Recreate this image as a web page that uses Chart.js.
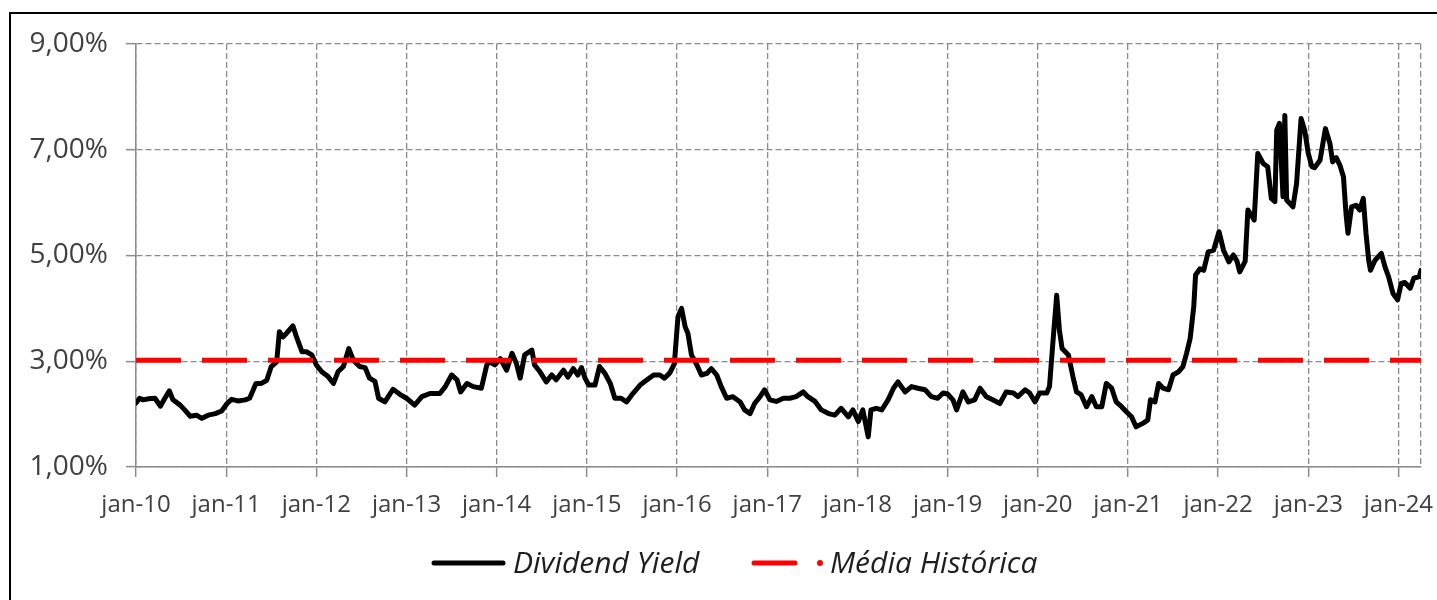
<!DOCTYPE html>
<html>
<head>
<meta charset="utf-8">
<script src="https://cdn.jsdelivr.net/npm/chart.js@4.4.1/dist/chart.umd.min.js"></script>
<style>
  html, body { margin: 0; padding: 0; background: #fff; overflow: hidden; }
  #frame { position: absolute; left: 9px; top: 12px; width: 1440px; height: 700px;
           border-left: 2px solid #000; border-top: 2px solid #000; }
  #c { position: absolute; left: 0; top: 0; }
</style>
</head>
<body>
<div id="frame"></div>
<canvas id="c" width="1437" height="600"></canvas>
<script>
// Dividend yield history (weekly-ish readings, decimal year) vs. historical mean.

var X_MIN = 2010;
var X_MAX = 2024.25;
var X_TICKS = [2010, 2011, 2012, 2013, 2014, 2015, 2016, 2017, 2018, 2019, 2020, 2021, 2022, 2023, 2024];
var Y_TICKS = [1, 3, 5, 7, 9];
var LABELS = ["Dividend Yield", "Média Histórica"];
var MEAN_VALUE = 3.02;

var DY_DATES = [
  2010.00, 2010.04, 2010.08, 2010.14, 2010.21, 2010.27, 2010.32, 2010.37, 2010.41, 2010.49,
  2010.54, 2010.60, 2010.67, 2010.73, 2010.80, 2010.88, 2010.95, 2011.01, 2011.06, 2011.13,
  2011.21, 2011.26, 2011.33, 2011.39, 2011.45, 2011.50, 2011.56, 2011.59, 2011.63, 2011.67,
  2011.74, 2011.78, 2011.84, 2011.89, 2011.95, 2012.00, 2012.06, 2012.13, 2012.19, 2012.24,
  2012.30, 2012.36, 2012.41, 2012.48, 2012.54, 2012.59, 2012.65, 2012.69, 2012.76, 2012.85,
  2012.93, 2013.00, 2013.09, 2013.17, 2013.26, 2013.37, 2013.43, 2013.50, 2013.56, 2013.60,
  2013.67, 2013.74, 2013.83, 2013.89, 2013.92, 2013.98, 2014.04, 2014.11, 2014.17, 2014.22,
  2014.26, 2014.31, 2014.39, 2014.42, 2014.48, 2014.55, 2014.61, 2014.66, 2014.74, 2014.79,
  2014.85, 2014.90, 2014.94, 2014.98, 2015.02, 2015.09, 2015.14, 2015.20, 2015.26, 2015.31,
  2015.38, 2015.44, 2015.51, 2015.59, 2015.66, 2015.74, 2015.81, 2015.86, 2015.92, 2015.97,
  2016.01, 2016.05, 2016.09, 2016.12, 2016.16, 2016.22, 2016.27, 2016.33, 2016.38, 2016.44,
  2016.49, 2016.55, 2016.62, 2016.70, 2016.75, 2016.81, 2016.86, 2016.92, 2016.97, 2017.03,
  2017.10, 2017.18, 2017.25, 2017.32, 2017.40, 2017.45, 2017.53, 2017.60, 2017.68, 2017.75,
  2017.82, 2017.90, 2017.95, 2018.01, 2018.06, 2018.12, 2018.15, 2018.21, 2018.27, 2018.34,
  2018.40, 2018.45, 2018.53, 2018.60, 2018.67, 2018.75, 2018.82, 2018.89, 2018.95, 2019.00,
  2019.06, 2019.10, 2019.17, 2019.23, 2019.30, 2019.36, 2019.43, 2019.50, 2019.58, 2019.65,
  2019.73, 2019.78, 2019.86, 2019.91, 2019.97, 2020.02, 2020.10, 2020.13, 2020.17, 2020.21,
  2020.24, 2020.27, 2020.34, 2020.39, 2020.43, 2020.48, 2020.54, 2020.60, 2020.65, 2020.71,
  2020.76, 2020.82, 2020.87, 2020.93, 2020.98, 2021.04, 2021.09, 2021.17, 2021.22, 2021.25,
  2021.30, 2021.34, 2021.39, 2021.45, 2021.50, 2021.56, 2021.61, 2021.65, 2021.69, 2021.73,
  2021.75, 2021.80, 2021.84, 2021.89, 2021.95, 2022.01, 2022.06, 2022.12, 2022.17, 2022.21,
  2022.24, 2022.30, 2022.33, 2022.37, 2022.40, 2022.44, 2022.50, 2022.55, 2022.59, 2022.63,
  2022.65, 2022.68, 2022.72, 2022.74, 2022.76, 2022.83, 2022.87, 2022.92, 2022.96, 2023.00,
  2023.04, 2023.07, 2023.13, 2023.19, 2023.24, 2023.27, 2023.31, 2023.35, 2023.39, 2023.42,
  2023.44, 2023.48, 2023.53, 2023.57, 2023.61, 2023.64, 2023.67, 2023.69, 2023.74, 2023.81,
  2023.85, 2023.89, 2023.94, 2023.99, 2024.03, 2024.07, 2024.13, 2024.17, 2024.23, 2024.25
];

var DY_VALUES = [
  2.21, 2.30, 2.27, 2.29, 2.30, 2.15, 2.30, 2.44, 2.27, 2.17,
  2.08, 1.96, 1.98, 1.92, 1.98, 2.01, 2.06, 2.20, 2.28, 2.25,
  2.27, 2.30, 2.58, 2.58, 2.64, 2.90, 2.99, 3.56, 3.46, 3.53,
  3.67, 3.46, 3.18, 3.18, 3.12, 2.93, 2.80, 2.71, 2.58, 2.80,
  2.90, 3.24, 3.02, 2.90, 2.88, 2.68, 2.62, 2.30, 2.23, 2.47,
  2.37, 2.30, 2.17, 2.33, 2.39, 2.39, 2.52, 2.74, 2.65, 2.42,
  2.58, 2.52, 2.49, 2.93, 2.99, 2.93, 3.05, 2.83, 3.15, 2.95,
  2.68, 3.12, 3.21, 2.93, 2.80, 2.61, 2.74, 2.65, 2.83, 2.70,
  2.86, 2.74, 2.88, 2.68, 2.55, 2.55, 2.90, 2.77, 2.58, 2.30,
  2.30, 2.23, 2.39, 2.55, 2.64, 2.74, 2.74, 2.68, 2.78, 2.95,
  3.84, 4.00, 3.65, 3.53, 3.12, 2.93, 2.74, 2.77, 2.86, 2.74,
  2.52, 2.30, 2.33, 2.23, 2.08, 2.01, 2.20, 2.33, 2.46, 2.27,
  2.24, 2.30, 2.30, 2.33, 2.42, 2.33, 2.24, 2.08, 2.01, 1.98,
  2.11, 1.95, 2.08, 1.86, 2.08, 1.57, 2.08, 2.11, 2.08, 2.27,
  2.49, 2.61, 2.42, 2.52, 2.49, 2.46, 2.33, 2.30, 2.40, 2.38,
  2.27, 2.08, 2.42, 2.23, 2.27, 2.49, 2.33, 2.27, 2.20, 2.42,
  2.40, 2.33, 2.46, 2.40, 2.23, 2.40, 2.40, 2.52, 3.40, 4.25,
  3.59, 3.24, 3.12, 2.71, 2.42, 2.37, 2.14, 2.33, 2.14, 2.14,
  2.58, 2.49, 2.23, 2.14, 2.05, 1.95, 1.76, 1.83, 1.89, 2.27,
  2.23, 2.58, 2.49, 2.46, 2.74, 2.80, 2.90, 3.15, 3.43, 4.03,
  4.63, 4.75, 4.72, 5.07, 5.10, 5.45, 5.10, 4.88, 5.01, 4.89,
  4.69, 4.89, 5.86, 5.76, 5.67, 6.93, 6.74, 6.68, 6.08, 6.02,
  7.37, 7.50, 6.11, 7.65, 6.05, 5.92, 6.36, 7.59, 7.37, 6.93,
  6.68, 6.66, 6.80, 7.40, 7.12, 6.77, 6.85, 6.71, 6.49, 5.76,
  5.42, 5.92, 5.95, 5.86, 6.08, 5.42, 4.91, 4.72, 4.91, 5.04,
  4.79, 4.60, 4.28, 4.16, 4.47, 4.49, 4.38, 4.57, 4.60, 4.72
];

var GRID_GRAY = "#8c8c8c";
var FONT = '"Open Sans", "Noto Sans", sans-serif';

function pctLabel(v) {
  return v.toFixed(2).replace(".", ",") + "%";
}

// Excel-style legend under the axis: solid sample, and long dash + dot sample.
var excelLegend = {
  id: "excelLegend",
  afterDraw: function (chart) {
    var ctx = chart.ctx;
    var ds = chart.data.datasets;
    var y = 563;
    ctx.save();
    ctx.lineWidth = 5;
    ctx.strokeStyle = ds[1].borderColor;
    ctx.lineCap = "round";
    ctx.beginPath(); ctx.moveTo(434, y); ctx.lineTo(503, y); ctx.stroke();
    ctx.strokeStyle = ds[0].borderColor;
    ctx.beginPath(); ctx.moveTo(754, y); ctx.lineTo(795, y); ctx.stroke();
    ctx.fillStyle = ds[0].borderColor;
    ctx.beginPath(); ctx.arc(820, y, 3, 0, Math.PI * 2); ctx.fill();
    ctx.font = "italic 30px " + FONT;
    ctx.fillStyle = "#1e1e1e";
    ctx.textBaseline = "alphabetic";
    ctx.fillText(ds[1].label, 513, 573);
    ctx.fillText(ds[0].label, 830, 573);
    ctx.restore();
  }
};

var dyPoints = DY_DATES.map(function (d, i) { return { x: d, y: DY_VALUES[i] }; });
var meanPoints = [{ x: X_MIN, y: MEAN_VALUE }, { x: X_MAX, y: MEAN_VALUE }];

new Chart(document.getElementById("c"), {
  type: "line",
  data: {
    datasets: [
      { label: LABELS[1], data: meanPoints, borderColor: "#ff0000", borderWidth: 5,
        borderDash: [45, 21], borderCapStyle: "butt", pointRadius: 0, tension: 0, order: 0 },
      { label: LABELS[0], data: dyPoints, borderColor: "#000000", borderWidth: 5,
        borderJoinStyle: "round", borderCapStyle: "round", pointRadius: 0, tension: 0, order: 1 }
    ]
  },
  options: {
    responsive: false,
    animation: false,
    devicePixelRatio: 1,
    layout: { padding: { top: 44, right: 16, left: 0, bottom: 0 } },
    plugins: { legend: { display: false }, tooltip: { enabled: false } },
    scales: {
      x: {
        type: "linear", min: X_MIN, max: X_MAX,
        afterBuildTicks: function (s) {
          s.ticks = X_TICKS.concat([X_MAX]).map(function (v) { return { value: v }; });
        },
        afterFit: function (s) { s.height = 133; },
        grid: {
          color: GRID_GRAY, lineWidth: 1.3, tickLength: 10, tickWidth: 1.5,
          tickColor: function (c) { return c.tick && c.tick.value === X_MAX ? "rgba(0,0,0,0)" : GRID_GRAY; }
        },
        border: { color: GRID_GRAY, width: 1.5, dash: [6, 3] },
        ticks: {
          autoSkip: false, maxRotation: 0, minRotation: 0, padding: 14, color: "#404040",
          font: { family: FONT, size: 24 },
          callback: function (v) { return v === X_MAX ? "" : "jan-" + String(v).slice(2); }
        }
      },
      y: {
        min: 1, max: 9,
        afterBuildTicks: function (s) {
          s.ticks = Y_TICKS.map(function (v) { return { value: v }; });
        },
        afterFit: function (s) { s.width = 136; },
        grid: { color: GRID_GRAY, lineWidth: 1.3, tickLength: 10, tickWidth: 1.5, tickColor: GRID_GRAY },
        border: { color: GRID_GRAY, width: 1.5, dash: [6, 3] },
        ticks: {
          padding: 18, color: "#404040",
          font: { family: FONT, size: 28 },
          callback: function (v) { return pctLabel(v); }
        }
      }
    }
  },
  plugins: [excelLegend]
});
</script>
</body>
</html>
